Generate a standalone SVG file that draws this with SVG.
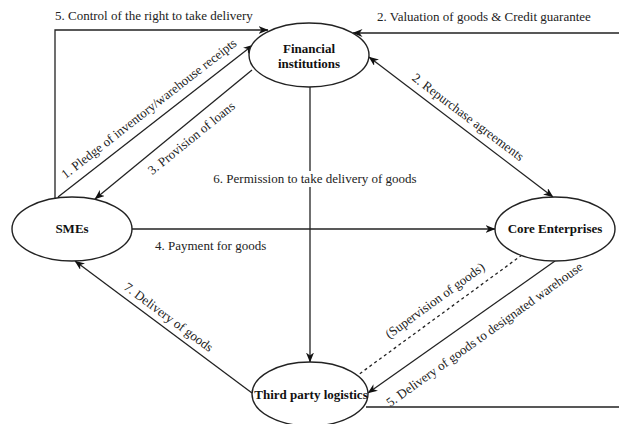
<svg xmlns="http://www.w3.org/2000/svg" width="619" height="424" viewBox="0 0 619 424">
<defs>
<marker id="arr" viewBox="0 0 10 8" refX="9.5" refY="4" markerWidth="10" markerHeight="8" markerUnits="userSpaceOnUse" orient="auto-start-reverse">
<path d="M0,0 L10,4 L0,8 L3,4 Z" fill="#111"/>
</marker>
<style>
.node ellipse{fill:#fff;stroke:#222;stroke-width:1.4}
.node text{font-family:"Liberation Serif","Times New Roman",serif;font-weight:bold;font-size:13px;fill:#111;text-anchor:middle}
.edge{fill:none;stroke:#222;stroke-width:1.3}
.dash{stroke-dasharray:3,3}
.lbl{font-family:"Liberation Serif","Times New Roman",serif;font-size:13px;fill:#222}
.mid{text-anchor:middle}
</style>
</defs>
<rect width="619" height="424" fill="#fff"/>
<g id="connectors">
<path class="edge" d="M55,198 L55,30 L268,30" marker-end="url(#arr)"/>
<path class="edge" d="M366,407 L640,407 L640,33 L353,33" marker-end="url(#arr)"/>
<path class="edge" d="M58,197 L253,45" marker-end="url(#arr)"/>
<path class="edge" d="M252,70 L95,199" marker-end="url(#arr)"/>
<path class="edge" d="M132,229 L495,229" marker-end="url(#arr)"/>
<path class="edge" d="M310,87 L310,362" marker-end="url(#arr)"/>
<path class="edge" d="M369,57 L553,197" marker-start="url(#arr)" marker-end="url(#arr)"/>
<path class="edge dash" d="M522,255 L358,375"/>
<path class="edge" d="M555,261 L368,393" marker-end="url(#arr)"/>
<path class="edge" d="M252,393 L75,261" marker-end="url(#arr)"/>
<text class="lbl" x="55" y="20">5. Control of the right to take delivery</text>
<text class="lbl" x="377" y="21">2. Valuation of goods &amp; Credit guarantee</text>
<text class="lbl mid" transform="translate(151.5,112) rotate(-38)">1. Pledge of inventory/warehouse receipts</text>
<text class="lbl mid" transform="translate(194,141.5) rotate(-39)">3. Provision of loans</text>
<text class="lbl mid" transform="translate(465.5,120.5) rotate(37)">2. Repurchase agreements</text>
<rect x="212" y="171" width="206" height="16" fill="#fff"/>
<text class="lbl mid" x="315" y="183">6. Permission to take delivery of goods</text>
<text class="lbl" x="155" y="250">4. Payment for goods</text>
<text class="lbl mid" transform="translate(437.5,304) rotate(-36)">(Supervision of goods)</text>
<text class="lbl mid" transform="translate(487,338) rotate(-35.6)">5. Delivery of goods to designated warehouse</text>
<text class="lbl mid" transform="translate(166,320.5) rotate(36.5)">7. Delivery of goods</text>
</g>
<g id="financial" class="node">
<ellipse cx="309" cy="55" rx="60" ry="32"/>
<text x="309" y="53">Financial</text>
<text x="309" y="68">institutions</text>
</g>
<g id="smes" class="node">
<ellipse cx="72" cy="229" rx="60" ry="32"/>
<text x="72" y="233">SMEs</text>
</g>
<g id="core" class="node">
<ellipse cx="555" cy="229" rx="60" ry="32"/>
<text x="555" y="233">Core Enterprises</text>
</g>
<g id="tpl" class="node">
<ellipse cx="310" cy="394" rx="58" ry="32"/>
<text x="311" y="399">Third party logistics</text>
</g>
</svg>
